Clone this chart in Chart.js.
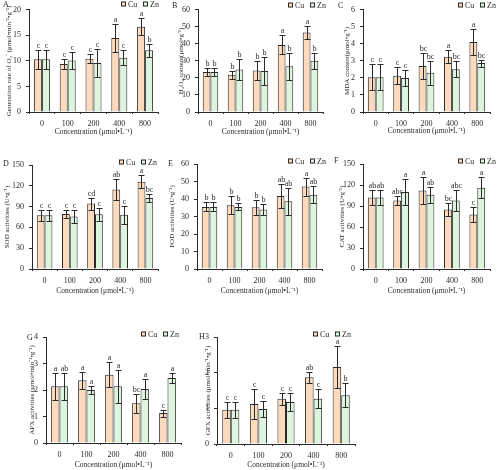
<!DOCTYPE html>
<html>
<head>
<meta charset="utf-8">
<script src="https://cdn.jsdelivr.net/npm/chart.js@4"></script>
<style>
  body { margin: 0; background: #fff; width: 500px; height: 470px; position: relative; overflow: hidden; }
  canvas { position: absolute; }
</style>
</head>
<body>
<script>
const concLabels = ["0", "100", "200", "400", "800"];

// A - O2 generation rate
const aCu = [10.3, 9.4, 10.4, 14.5, 16.7];
const aCuSd = [1.8, 1.0, 0.9, 2.7, 1.7];
const aZn = [10.3, 10.1, 9.6, 10.6, 12.1];
const aZnSd = [1.8, 1.6, 2.7, 1.5, 1.3];
const aCuSig = ["c", "c", "c", "a", "a"];
const aZnSig = ["c", "c", "c", "c", "b"];

// B - H2O2
const bCu = [23.5, 21.8, 24.4, 39.4, 46.6];
const bCuSd = [2.5, 2.4, 5.7, 5.6, 4.0];
const bZn = [23.5, 25.0, 24.0, 26.9, 30.1];
const bZnSd = [2.5, 6.0, 8.2, 8.0, 4.8];
const bCuSig = ["b", "b", "b", "a", "a"];
const bZnSig = ["b", "b", "b", "b", "b"];

// C - MDA
const cCu = [2.04, 2.13, 2.70, 3.25, 4.11];
const cCuSd = [0.75, 0.5, 0.79, 0.4, 0.77];
const cZn = [2.04, 2.0, 2.3, 2.51, 2.87];
const cZnSd = [0.75, 0.47, 0.72, 0.47, 0.2];
const cCuSig = ["c", "c", "bc", "a", "a"];
const cZnSig = ["c", "c", "bc", "bc", "bc"];

// D - SOD
const dCu = [77.6, 79.5, 94.4, 114.5, 126];
const dCuSd = [7.7, 6, 8.6, 15.6, 9.6];
const dZn = [77.6, 75.7, 79, 78.1, 102.5];
const dZnSd = [7.7, 9.6, 9.3, 13, 5.3];
const dCuSig = ["c", "c", "cd", "ab", "a"];
const dZnSig = ["c", "c", "c", "c", "bc"];

// E - POD
const eCu = [35.5, 36.4, 35.3, 41.7, 47.1];
const eCuSd = [2.6, 5.2, 4.4, 6.9, 5.1];
const eZn = [35.5, 35.5, 34.0, 38.7, 42.5];
const eZnSd = [2.6, 2.0, 3.4, 7.8, 4.7];
const eCuSig = ["b", "b", "b", "ab", "a"];
const eZnSig = ["b", "b", "b", "ab", "ab"];

// F - CAT
const fCu = [102, 97.8, 112, 85, 77.8];
const fCuSd = [11, 6, 19, 9, 11];
const fZn = [102, 110, 106, 97.8, 116];
const fZnSd = [11, 19, 11, 15, 15];
const fCuSig = ["ab", "abc", "a", "bc", "c"];
const fZnSig = ["ab", "a", "ab", "abc", "a"];

// G - APX
const gCu = [2.14, 2.37, 2.58, 1.5, 1.13];
const gCuSd = [0.52, 0.32, 0.46, 0.36, 0.13];
const gZn = [2.14, 2.0, 2.14, 2.04, 2.45];
const gZnSd = [0.52, 0.14, 0.62, 0.37, 0.2];
const gCuSig = ["a", "a", "a", "bc", "c"];
const gZnSig = ["ab", "a", "a", "a", "a"];

// H - GPX
const hCu = [0.96, 1.12, 1.27, 1.87, 2.16];
const hCuSd = [0.23, 0.42, 0.17, 0.15, 0.6];
const hZn = [0.96, 0.98, 1.18, 1.27, 1.37];
const hZnSd = [0.23, 0.23, 0.26, 0.27, 0.33];
const hCuSig = ["c", "c", "c", "ab", "a"];
const hZnSig = ["c", "c", "c", "c", "b"];

const CU_FILL = "#fcdabb";
const ZN_FILL = "#dcf5dc";
const INK = "#2a2a2a";
const SERIF = "'Liberation Serif', 'Times New Roman', serif";
const xTitle = "Concentration (\u03bcmol\u2022L\u207b\u00b9)";

// error bars + significance letters
const errPlugin = {
  id: "errs",
  afterDatasetsDraw(chart) {
    const ctx = chart.ctx;
    const yS = chart.scales.y;
    chart.data.datasets.forEach((ds, di) => {
      const meta = chart.getDatasetMeta(di);
      meta.data.forEach((bar, i) => {
        const v = ds.data[i], e = ds.sd[i];
        const yTop = Math.round(yS.getPixelForValue(v + e)) + 0.5;
        const yBot = Math.round(yS.getPixelForValue(v - e)) + 0.5;
        const x = Math.round(bar.x) + 0.5;
        ctx.save();
        ctx.strokeStyle = INK;
        ctx.lineWidth = 1;
        ctx.beginPath();
        ctx.moveTo(x, yTop); ctx.lineTo(x, yBot);
        ctx.moveTo(x - 3, yTop); ctx.lineTo(x + 3, yTop);
        ctx.moveTo(x - 3, yBot); ctx.lineTo(x + 3, yBot);
        ctx.stroke();
        ctx.fillStyle = INK;
        ctx.font = "8px " + SERIF;
        ctx.textAlign = "center";
        ctx.textBaseline = "bottom";
        ctx.fillText(ds.sig[i], x, yTop - 1);
        ctx.restore();
      });
    });
  }
};

// panel letter and the little legend
const decoPlugin = {
  id: "deco",
  afterDraw(chart) {
    const o = chart.options.plugins.deco;
    const ctx = chart.ctx;
    ctx.save();
    ctx.fillStyle = INK;
    ctx.font = "8px " + SERIF;
    ctx.textBaseline = "middle";
    ctx.textAlign = "left";
    ctx.fillText(o.letter, o.letterX - o.cx, o.letterY - o.cy);
    const lx = o.legX - o.cx, ly = o.legY - o.cy;
    [["Cu", CU_FILL, 0], ["Zn", ZN_FILL, 22]].forEach(([name, fill, dx]) => {
      ctx.fillStyle = fill;
      ctx.fillRect(lx + dx, ly - 2.5, 5, 5);
      ctx.strokeStyle = INK;
      ctx.lineWidth = 1;
      ctx.strokeRect(lx + dx + 0.5, ly - 2, 4, 4);
      ctx.fillStyle = INK;
      ctx.fillText(name, lx + dx + 7, ly + 0.5);
    });
    ctx.restore();
  }
};

function makePanel(p) {
  const cv = document.createElement("canvas");
  cv.width = p.w; cv.height = p.h;
  cv.style.left = p.cx + "px";
  cv.style.top = p.cy + "px";
  cv.style.width = p.w + "px";
  cv.style.height = p.h + "px";
  document.body.appendChild(cv);

  const yW = p.L - p.cx;
  const xH = p.cy + p.h - p.B;

  new Chart(cv, {
    type: "bar",
    data: {
      labels: concLabels,
      datasets: [
        { label: "Cu", data: p.cu, sd: p.cuSd, sig: p.cuSig, backgroundColor: CU_FILL, borderColor: INK, borderWidth: 1 },
        { label: "Zn", data: p.zn, sd: p.znSd, sig: p.znSig, backgroundColor: ZN_FILL, borderColor: INK, borderWidth: 1 }
      ]
    },
    options: {
      responsive: false,
      animation: false,
      devicePixelRatio: 1,
      layout: { padding: { left: 0, top: p.T - p.cy, right: p.cx + p.w - p.R, bottom: 0 } },
      datasets: { bar: { categoryPercentage: 0.62, barPercentage: 1.0 } },
      plugins: {
        legend: { display: false },
        tooltip: { enabled: false },
        deco: { letter: p.letter, letterX: p.letterX, letterY: p.letterY, legX: p.legX, legY: p.legY, cx: p.cx, cy: p.cy }
      },
      scales: {
        x: {
          afterFit: s => { s.height = xH; },
          grid: { drawOnChartArea: false, drawTicks: true, tickLength: 2, color: INK },
          border: { display: true, color: INK, width: 1 },
          ticks: { color: INK, padding: 5, font: { family: SERIF, size: 8 } },
          title: { display: true, text: xTitle, color: INK, font: { family: SERIF, size: 7.5 },
                   padding: { top: 0, bottom: p.cy + p.h - p.xTitleY - 4.5 } }
        },
        y: {
          min: 0, max: p.max,
          afterFit: s => { s.width = yW; },
          grid: { drawOnChartArea: false, drawTicks: true, tickLength: 3, color: INK },
          border: { display: true, color: INK, width: 1 },
          ticks: { stepSize: p.step, color: INK, padding: 5, font: { family: SERIF, size: 8 } },
          title: { display: true, text: p.yTitle, color: INK, font: { family: SERIF, size: 7 },
                   padding: { top: p.yTitleX - p.cx - 4.2, bottom: 0 } }
        }
      }
    },
    plugins: [errPlugin, decoPlugin]
  });
}

makePanel({ cx: 0, cy: 0, w: 165, h: 145, L: 29, R: 158, T: 6, B: 112, max: 20, step: 5,
  cu: aCu, cuSd: aCuSd, zn: aZn, znSd: aZnSd, cuSig: aCuSig, znSig: aZnSig,
  yTitle: "Generation rate of O\u2082\u207b (\u03bcmol\u2022min\u207b\u00b9\u2022g\u207b\u00b9)", yTitleX: 9, xTitleY: 132,
  letter: "A", letterX: 3, letterY: 5, legX: 121, legY: 4 });

makePanel({ cx: 165, cy: 0, w: 165, h: 145, L: 198, R: 323, T: 6, B: 112, max: 60, step: 10,
  cu: bCu, cuSd: bCuSd, zn: bZn, znSd: bZnSd, cuSig: bCuSig, znSig: bZnSig,
  yTitle: "H\u2082O\u2082 content(\u03bcmol\u2022g\u207b\u00b9)", yTitleX: 181, xTitleY: 132,
  letter: "B", letterX: 172, letterY: 6, legX: 288, legY: 5 });

makePanel({ cx: 330, cy: 0, w: 170, h: 145, L: 363, R: 490, T: 6, B: 112, max: 6, step: 1,
  cu: cCu, cuSd: cCuSd, zn: cZn, znSd: cZnSd, cuSig: cCuSig, znSig: cZnSig,
  yTitle: "MDA content(\u03bcmol\u2022g\u207b\u00b9)", yTitleX: 347, xTitleY: 131,
  letter: "C", letterX: 338, letterY: 6, legX: 458, legY: 5 });

makePanel({ cx: 0, cy: 150, w: 165, h: 150, L: 32, R: 158, T: 165, B: 269, max: 150, step: 30,
  cu: dCu, cuSd: dCuSd, zn: dZn, znSd: dZnSd, cuSig: dCuSig, znSig: dZnSig,
  yTitle: "SOD activities (U\u2022g\u207b\u00b9)", yTitleX: 7, xTitleY: 291,
  letter: "D", letterX: 3, letterY: 164, legX: 119, legY: 162 });

makePanel({ cx: 165, cy: 150, w: 165, h: 150, L: 197, R: 322, T: 164, B: 269, max: 60, step: 10,
  cu: eCu, cuSd: eCuSd, zn: eZn, znSd: eZnSd, cuSig: eCuSig, znSig: eZnSig,
  yTitle: "POD activities (U\u2022g\u207b\u00b9)", yTitleX: 172, xTitleY: 291,
  letter: "E", letterX: 168, letterY: 164, legX: 288, legY: 161 });

makePanel({ cx: 330, cy: 150, w: 170, h: 150, L: 363, R: 490, T: 164, B: 269, max: 150, step: 30,
  cu: fCu, cuSd: fCuSd, zn: fZn, znSd: fZnSd, cuSig: fCuSig, znSig: fZnSig,
  yTitle: "CAT activities (U\u2022g\u207b\u00b9)", yTitleX: 342, xTitleY: 291,
  letter: "F", letterX: 334, letterY: 161, legX: 458, legY: 161 });

makePanel({ cx: 0, cy: 315, w: 195, h: 155, L: 46, R: 181, T: 337, B: 443, max: 4, step: 1,
  cu: gCu, cuSd: gCuSd, zn: gZn, znSd: gZnSd, cuSig: gCuSig, znSig: gZnSig,
  yTitle: "APX activities (\u03bcmol\u2022min\u207b\u00b9\u2022g\u207b\u00b9)", yTitleX: 32, xTitleY: 465,
  letter: "G", letterX: 27, letterY: 338, legX: 141, legY: 334 });

makePanel({ cx: 195, cy: 315, w: 170, h: 155, L: 217, R: 355, T: 337, B: 444, max: 3, step: 1,
  cu: hCu, cuSd: hCuSd, zn: hZn, znSd: hZnSd, cuSig: hCuSig, znSig: hZnSig,
  yTitle: "GPX activities (\u03bcmol\u2022min\u207b\u00b9\u2022g\u207b\u00b9)", yTitleX: 208, xTitleY: 465,
  letter: "H", letterX: 199, letterY: 337, legX: 313, legY: 334 });
</script>
</body>
</html>
